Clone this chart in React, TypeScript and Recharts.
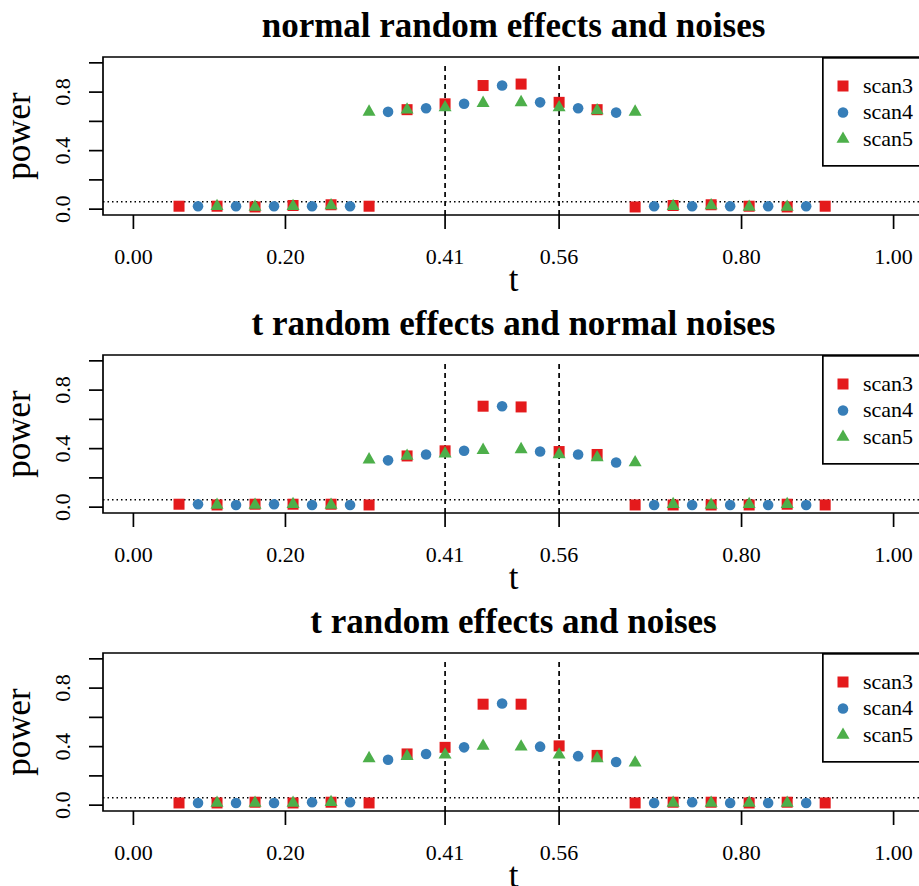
import React from 'react'
import { ScatterChart, Scatter, XAxis, YAxis, ReferenceLine, ReferenceArea, Legend } from 'recharts'

// t grid of each scan
const tScan3 = [0.06, 0.11, 0.16, 0.21, 0.26, 0.31, 0.36, 0.41, 0.46, 0.51, 0.56, 0.61, 0.66, 0.71, 0.76, 0.81, 0.86, 0.91]
const tScan4 = [0.085, 0.135, 0.185, 0.235, 0.285, 0.335, 0.385, 0.435, 0.485, 0.535, 0.585, 0.635, 0.685, 0.735, 0.785, 0.835, 0.885]
const tScan5 = [0.11, 0.16, 0.21, 0.26, 0.31, 0.36, 0.41, 0.46, 0.51, 0.56, 0.61, 0.66, 0.71, 0.76, 0.81, 0.86]

// normal random effects and noises
const normalScan3 = [0.02, 0.02, 0.015, 0.025, 0.03, 0.02, 0.68, 0.72, 0.845, 0.855, 0.73, 0.68, 0.015, 0.025, 0.03, 0.02, 0.015, 0.02]
const normalScan4 = [0.02, 0.02, 0.02, 0.02, 0.02, 0.665, 0.69, 0.72, 0.845, 0.73, 0.69, 0.66, 0.02, 0.02, 0.02, 0.02, 0.02]
const normalScan5 = [0.02, 0.015, 0.02, 0.025, 0.665, 0.68, 0.695, 0.725, 0.73, 0.695, 0.675, 0.665, 0.02, 0.025, 0.015, 0.015]

// t random effects and normal noises
const tNormalScan3 = [0.02, 0.015, 0.02, 0.02, 0.02, 0.015, 0.35, 0.385, 0.69, 0.685, 0.38, 0.36, 0.015, 0.015, 0.015, 0.015, 0.02, 0.015]
const tNormalScan4 = [0.02, 0.015, 0.02, 0.015, 0.015, 0.32, 0.36, 0.385, 0.69, 0.38, 0.36, 0.305, 0.015, 0.015, 0.015, 0.015, 0.015]
const tNormalScan5 = [0.015, 0.015, 0.02, 0.015, 0.325, 0.35, 0.365, 0.39, 0.395, 0.36, 0.34, 0.305, 0.02, 0.015, 0.02, 0.02]

// t random effects and noises
const tTScan3 = [0.015, 0.015, 0.02, 0.015, 0.02, 0.015, 0.35, 0.395, 0.69, 0.69, 0.405, 0.34, 0.015, 0.02, 0.02, 0.015, 0.02, 0.015]
const tTScan4 = [0.015, 0.015, 0.015, 0.02, 0.02, 0.31, 0.35, 0.395, 0.695, 0.40, 0.335, 0.295, 0.015, 0.02, 0.015, 0.015, 0.015]
const tTScan5 = [0.015, 0.015, 0.015, 0.02, 0.32, 0.335, 0.345, 0.405, 0.40, 0.345, 0.32, 0.29, 0.015, 0.015, 0.015, 0.015]

const panelTitles = ['normal random effects and noises', 't random effects and normal noises', 't random effects and noises']
const seriesNames = ['scan3', 'scan4', 'scan5']
const seriesColors = ['#E41A1C', '#377EB8', '#4DAF4A']

const xTicks = [0, 0.2, 0.41, 0.56, 0.8, 1]
const xTickLabels = ['0.00', '0.20', '0.41', '0.56', '0.80', '1.00']
const yTicks = [0, 0.2, 0.4, 0.6, 0.8, 1]
const yTickLabels = ['0.0', '', '0.4', '', '0.8', '']
const cutPoints = [0.41, 0.56]
const levelLine = 0.05

const serif = '"Liberation Serif", "Times New Roman", Times, serif'
const lw = 1.7

function marker(kind: number, cx: number, cy: number, color: string) {
  if (kind === 0) return <rect x={cx - 5.5} y={cy - 5.5} width={11} height={11} fill={color} />
  if (kind === 1) return <circle cx={cx} cy={cy} r={5.3} fill={color} />
  return <polygon points={`${cx},${cy - 7.5} ${cx + 6.5},${cy + 3.8} ${cx - 6.5},${cy + 3.8}`} fill={color} />
}

const shapes = [0, 1, 2].map((k) => (p: any) => marker(k, p.cx, p.cy, seriesColors[k]))

function XTick({ x, y, payload }: any) {
  const label = xTickLabels[xTicks.indexOf(payload.value)]
  return (
    <text x={x} y={y + 35} textAnchor="middle" fontSize={22} fontFamily={serif} fill="#000">
      {label}
    </text>
  )
}

function YTick({ x, y, payload }: any) {
  const label = yTickLabels[yTicks.indexOf(payload.value)]
  if (!label) return <g />
  const bx = x - 19
  return (
    <text x={bx} y={y} transform={`rotate(-90, ${bx}, ${y})`} textAnchor="middle" fontSize={22} fontFamily={serif} fill="#000">
      {label}
    </text>
  )
}

function LegendBox({ payload }: any) {
  const items = payload ?? []
  return (
    <svg width={104} height={110} style={{ display: 'block', overflow: 'visible' }}>
      <rect x={lw / 2} y={lw / 2} width={110} height={108} fill="#fff" stroke="#000" strokeWidth={lw} />
      {items.map((item: any, i: number) => {
        const k = seriesNames.indexOf(item.value)
        const cy = 29 + i * 26.5
        return (
          <g key={item.value}>
            {marker(k, 21, cy, seriesColors[k])}
            <text x={41} y={cy + 6.5} fontSize={22} fontFamily={serif} fill="#000">
              {item.value}
            </text>
          </g>
        )
      })}
    </svg>
  )
}

const toRows = (ts: number[], vals: number[]) => ts.map((t, i) => ({ t, power: vals[i] }))

const panels = [
  [normalScan3, normalScan4, normalScan5],
  [tNormalScan3, tNormalScan4, tNormalScan5],
  [tTScan3, tTScan4, tTScan5],
]
const tGrids = [tScan3, tScan4, tScan5]

function Panel({ title, values }: { title: string; values: number[][] }) {
  return (
    <div style={{ position: 'relative', width: 940, height: 298 }}>
      <ScatterChart width={940} height={298} margin={{ top: 57, right: 16, bottom: 23, left: 0 }}>
        <XAxis
          type="number"
          dataKey="t"
          domain={[-0.04, 1.04]}
          allowDataOverflow
          ticks={xTicks}
          interval={0}
          axisLine={false}
          stroke="#000"
          tickLine={{ stroke: '#000', strokeWidth: lw }}
          tickSize={14}
          tickMargin={0}
          height={60}
          tick={XTick}
        />
        <YAxis
          type="number"
          dataKey="power"
          domain={[-0.04, 1.04]}
          allowDataOverflow
          ticks={yTicks}
          interval={0}
          axisLine={false}
          stroke="#000"
          tickLine={{ stroke: '#000', strokeWidth: lw }}
          tickSize={14}
          tickMargin={0}
          width={103}
          tick={YTick}
        />
        {values.map((vals, k) => (
          <Scatter
            key={seriesNames[k]}
            name={seriesNames[k]}
            data={toRows(tGrids[k], vals)}
            fill={seriesColors[k]}
            shape={shapes[k]}
            isAnimationActive={false}
          />
        ))}
        {cutPoints.map((c) => (
          <ReferenceLine
            key={c}
            segment={[{ x: c, y: -0.04 }, { x: c, y: 1 }]}
            stroke="#000"
            strokeWidth={lw}
            strokeDasharray="5 4"
          />
        ))}
        <ReferenceLine y={levelLine} stroke="#000" strokeWidth={1.5} strokeDasharray="1.5 3" />
        <ReferenceArea x1={-0.04} x2={1.04} y1={-0.04} y2={1.04} fill="none" fillOpacity={0} stroke="#000" strokeWidth={lw} />
        <Legend
          layout="vertical"
          align="center"
          verticalAlign="middle"
          content={LegendBox}
          wrapperStyle={{ left: 822, top: 57, width: 104, height: 110 }}
        />
      </ScatterChart>
      <svg
        width={940}
        height={298}
        style={{ position: 'absolute', left: 0, top: 0, pointerEvents: 'none', overflow: 'visible' }}
      >
        <text x={513.5} y={37} textAnchor="middle" fontSize={35} fontWeight="bold" fontFamily={serif} fill="#000">
          {title}
        </text>
        <text x={513.5} y={291} textAnchor="middle" fontSize={35} fontFamily={serif} fill="#000">
          t
        </text>
        <text x={30} y={136} transform="rotate(-90, 30, 136)" textAnchor="middle" fontSize={35} fontFamily={serif} fill="#000">
          power
        </text>
      </svg>
    </div>
  )
}

export default function App() {
  return (
    <div style={{ position: 'absolute', left: 0, top: 0, width: 919, height: 886, overflow: 'hidden', background: '#fff' }}>
      {panels.map((values, i) => (
        <Panel key={panelTitles[i]} title={panelTitles[i]} values={values} />
      ))}
    </div>
  )
}
